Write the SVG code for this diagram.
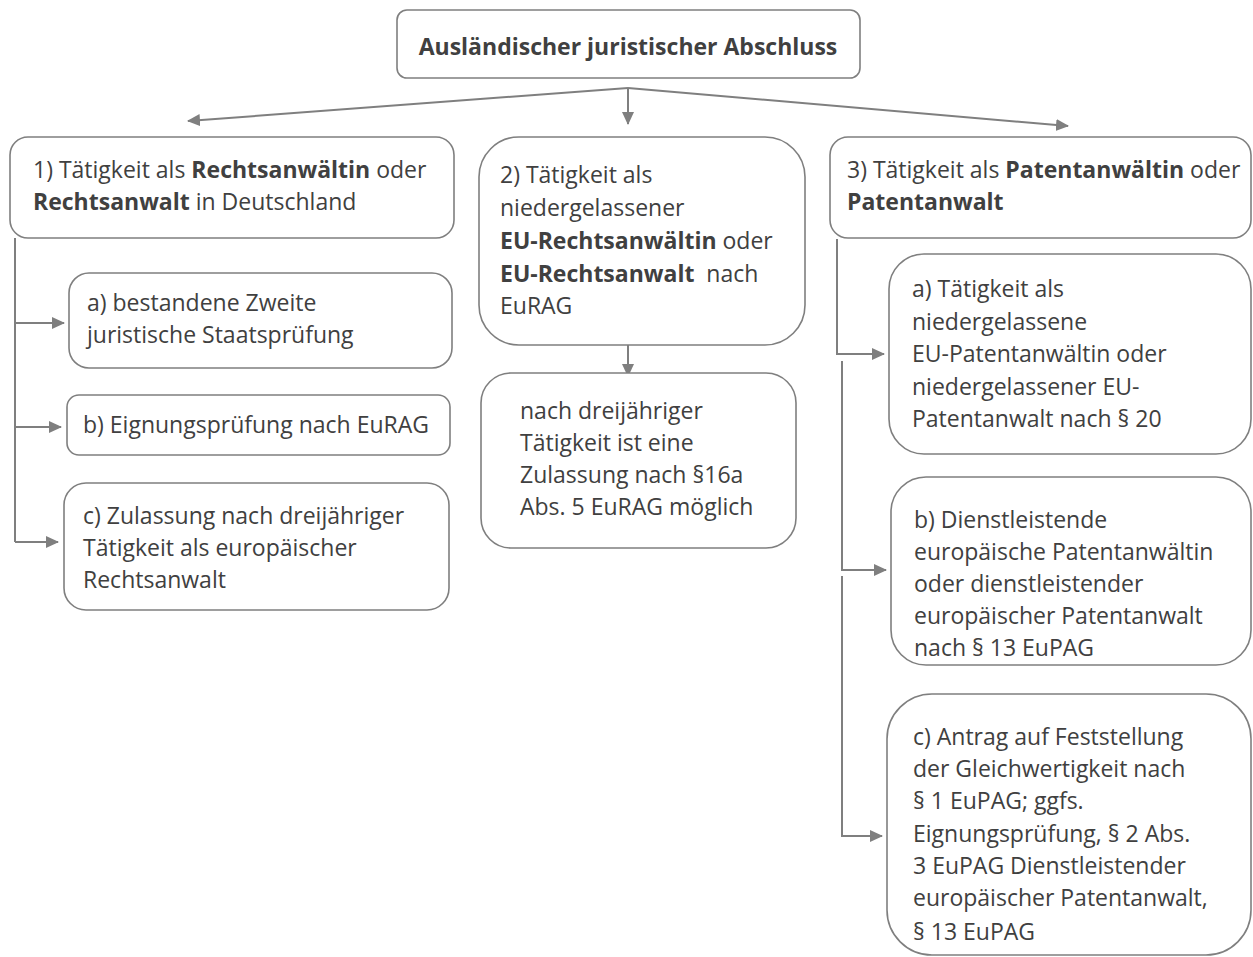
<svg xmlns="http://www.w3.org/2000/svg" width="1253" height="957" viewBox="0 0 1253 957">
<defs>
<marker id="ah" markerWidth="14" markerHeight="14" refX="12" refY="6" orient="auto" markerUnits="userSpaceOnUse"><path d="M0,0 L13,6 L0,12 Z" fill="#7f7f7f"/></marker>
</defs>
<style>
.box{fill:#fff;stroke:#7f7f7f;stroke-width:1.6}
.t{font-family:"Open Sans","Noto Sans",sans-serif;font-size:23px;fill:#404040}
.b{font-weight:bold}
.c{fill:none;stroke:#7f7f7f;stroke-width:2}
</style>
<rect width="1253" height="957" fill="#fff"/>
<g id="connectors">
<path class="c" d="M628,88 L188,121" marker-end="url(#ah)"/>
<path class="c" d="M628,88 L628,124" marker-end="url(#ah)"/>
<path class="c" d="M628,88 L1068,126" marker-end="url(#ah)"/>
<path class="c" d="M15,238 L15,542"/>
<path class="c" d="M15,323 L64,323" marker-end="url(#ah)"/>
<path class="c" d="M15,427 L61,427" marker-end="url(#ah)"/>
<path class="c" d="M15,542 L58,542" marker-end="url(#ah)"/>
<path class="c" d="M628,345 L628,376" marker-end="url(#ah)"/>
<path class="c" d="M837,239 L837,354 L884,354" marker-end="url(#ah)"/>
<path class="c" d="M842,361 L842,570 L886,570" marker-end="url(#ah)"/>
<path class="c" d="M842,576 L842,836 L882,836" marker-end="url(#ah)"/>
</g>
<g id="n0"><rect class="box" x="397" y="10" width="463" height="68" rx="10"/>
<text class="t b" x="628" y="55" text-anchor="middle">Ausländischer juristischer Abschluss</text></g>
<g id="n1"><rect class="box" x="10" y="137" width="444" height="101" rx="18"/>
<text class="t" x="33" y="178">1) Tätigkeit als <tspan class="b">Rechtsanwältin</tspan> oder</text>
<text class="t" x="33" y="210"><tspan class="b">Rechtsanwalt</tspan> in Deutschland</text></g>
<g id="n1a"><rect class="box" x="69" y="273" width="383" height="95" rx="20"/>
<text class="t" x="87" y="311">a) bestandene Zweite</text>
<text class="t" x="87" y="343">juristische Staatsprüfung</text></g>
<g id="n1b"><rect class="box" x="67" y="395" width="383" height="60" rx="12"/>
<text class="t" x="83" y="433">b) Eignungsprüfung nach EuRAG</text></g>
<g id="n1c"><rect class="box" x="64" y="483" width="385" height="127" rx="22"/>
<text class="t" x="83" y="524">c) Zulassung nach dreijähriger</text>
<text class="t" x="83" y="556">Tätigkeit als europäischer</text>
<text class="t" x="83" y="588">Rechtsanwalt</text></g>
<g id="n2"><rect class="box" x="479" y="137" width="326" height="208" rx="40"/>
<text class="t" x="500" y="183">2) Tätigkeit als</text>
<text class="t" x="500" y="216">niedergelassener</text>
<text class="t" x="500" y="249"><tspan class="b">EU-Rechtsanwältin</tspan> oder</text>
<text class="t" x="500" y="282"><tspan class="b">EU-Rechtsanwalt</tspan>&#160; nach</text>
<text class="t" x="500" y="314">EuRAG</text></g>
<g id="n2a"><rect class="box" x="481" y="373" width="315" height="175" rx="30"/>
<text class="t" x="520" y="419">nach dreijähriger</text>
<text class="t" x="520" y="451">Tätigkeit ist eine</text>
<text class="t" x="520" y="483">Zulassung nach §16a</text>
<text class="t" x="520" y="515">Abs. 5 EuRAG möglich</text></g>
<g id="n3"><rect class="box" x="830" y="137" width="421" height="101" rx="18"/>
<text class="t" x="847" y="178">3) Tätigkeit als <tspan class="b">Patentanwältin</tspan> oder</text>
<text class="t" x="847" y="210"><tspan class="b">Patentanwalt</tspan></text></g>
<g id="n3a"><rect class="box" x="889" y="254" width="362" height="200" rx="35"/>
<text class="t" x="912" y="297">a) Tätigkeit als</text>
<text class="t" x="912" y="330">niedergelassene</text>
<text class="t" x="912" y="362">EU-Patentanwältin oder</text>
<text class="t" x="912" y="395">niedergelassener EU-</text>
<text class="t" x="912" y="427">Patentanwalt nach § 20</text></g>
<g id="n3b"><rect class="box" x="891" y="477" width="360" height="188" rx="35"/>
<text class="t" x="914" y="528">b) Dienstleistende</text>
<text class="t" x="914" y="560">europäische Patentanwältin</text>
<text class="t" x="914" y="592">oder dienstleistender</text>
<text class="t" x="914" y="624">europäischer Patentanwalt</text>
<text class="t" x="914" y="656">nach § 13 EuPAG</text></g>
<g id="n3c"><rect class="box" x="887" y="694" width="364" height="261" rx="45"/>
<text class="t" x="913" y="745">c) Antrag auf Feststellung</text>
<text class="t" x="913" y="777">der Gleichwertigkeit nach</text>
<text class="t" x="913" y="809">§ 1 EuPAG; ggfs.</text>
<text class="t" x="913" y="842">Eignungsprüfung, § 2 Abs.</text>
<text class="t" x="913" y="874">3 EuPAG Dienstleistender</text>
<text class="t" x="913" y="906">europäischer Patentanwalt,</text>
<text class="t" x="913" y="940">§ 13 EuPAG</text></g>
</svg>
